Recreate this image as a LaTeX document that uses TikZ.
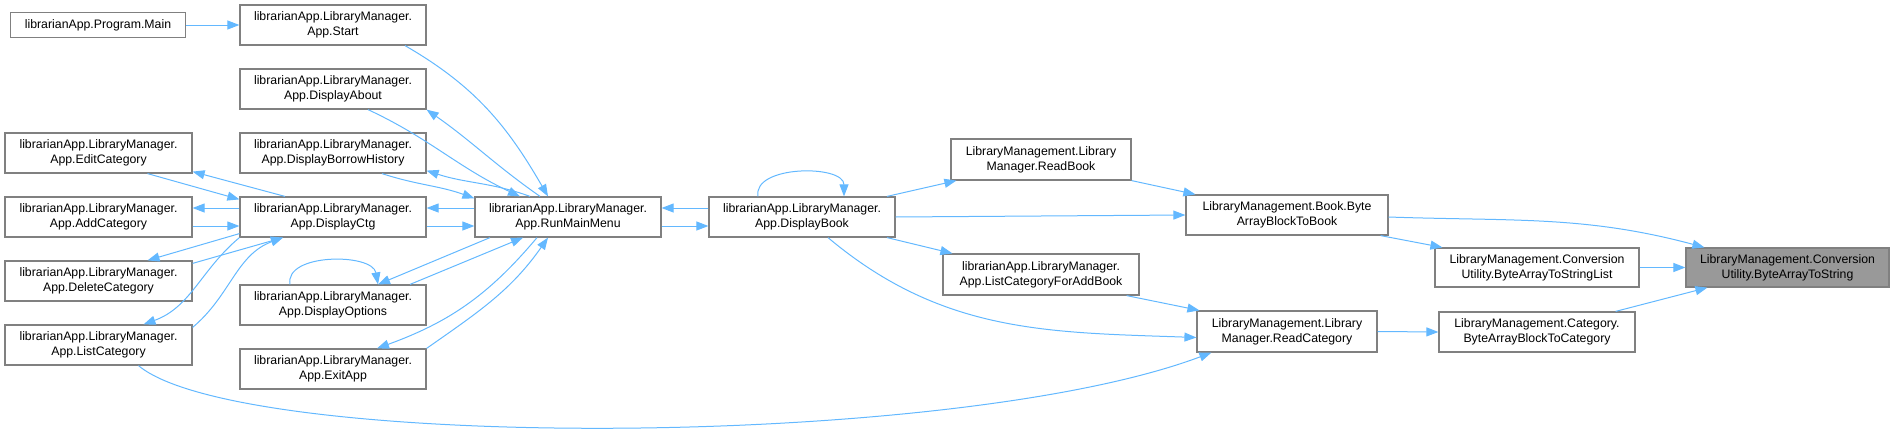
\documentclass[tikz,border=0pt]{standalone}
\usepackage{fontspec}
\setmainfont{Liberation Sans}
\usetikzlibrary{arrows.meta}
\definecolor{edgeblue}{HTML}{63B8FF}
\definecolor{boxgray}{HTML}{808080}
\definecolor{rootgray}{HTML}{999999}
\begin{document}
\begin{tikzpicture}[x=1pt, y=1pt,
	every node/.style={inner sep=1pt, font=\fontsize{12.3}{15}\selectfont},
	fn/.style={rectangle, draw=boxgray, line width=1.2pt, fill=white, align=center, minimum width=186pt, minimum height=40pt},
	call/.style={draw=edgeblue, line width=1pt, -{Triangle[length=12pt,width=9pt]}}]
	\useasboundingbox (0,0) rectangle (1895,-434);
	
	\node[fn, minimum width=175pt, minimum height=25pt] (main) at (98,-25) {librarianApp.Program.Main};
	\node[fn] (start) at (333,-25) {librarianApp.LibraryManager.\\App.Start};
	\node[fn] (about) at (333,-89) {librarianApp.LibraryManager.\\App.DisplayAbout};
	\node[fn] (borrow) at (333,-153) {librarianApp.LibraryManager.\\App.DisplayBorrowHistory};
	\node[fn, minimum width=187pt] (edit) at (98.5,-153) {librarianApp.LibraryManager.\\App.EditCategory};
	\node[fn, minimum width=187pt] (add) at (98.5,-217) {librarianApp.LibraryManager.\\App.AddCategory};
	\node[fn] (ctg) at (333,-217) {librarianApp.LibraryManager.\\App.DisplayCtg};
	\node[fn, minimum width=187pt] (del) at (98.5,-281) {librarianApp.LibraryManager.\\App.DeleteCategory};
	\node[fn, minimum width=187pt] (list) at (98.5,-345) {librarianApp.LibraryManager.\\App.ListCategory};
	\node[fn] (options) at (333,-305) {librarianApp.LibraryManager.\\App.DisplayOptions};
	\node[fn] (exitapp) at (333,-369) {librarianApp.LibraryManager.\\App.ExitApp};
	\node[fn] (menu) at (568,-217) {librarianApp.LibraryManager.\\App.RunMainMenu};
	\node[fn] (book) at (802,-217) {librarianApp.LibraryManager.\\App.DisplayBook};
	\node[fn, minimum width=180pt, minimum height=41pt] (readbook) at (1041,-159.5) {LibraryManagement.Library\\Manager.ReadBook};
	\node[fn, minimum width=202pt] (bookblock) at (1287,-215) {LibraryManagement.Book.Byte\\ArrayBlockToBook};
	\node[fn, minimum width=196pt, minimum height=41pt] (listadd) at (1041,-274.5) {librarianApp.LibraryManager.\\App.ListCategoryForAddBook};
	\node[fn, minimum width=180pt, minimum height=41pt] (readcat) at (1287,-331.5) {LibraryManagement.Library\\Manager.ReadCategory};
	\node[fn, minimum width=204pt, minimum height=39pt] (strlist) at (1537,-267.5) {LibraryManagement.Conversion\\Utility.ByteArrayToStringList};
	\node[fn, minimum width=196pt] (catblock) at (1537,-332) {LibraryManagement.Category.\\ByteArrayBlockToCategory};
	\node[fn, minimum width=203pt, minimum height=39pt, fill=rootgray] (tostring) at (1787.5,-267.5) {LibraryManagement.Conversion\\Utility.ByteArrayToString};
	
	\foreach \from/\to in {main.east/start.west, book.east/bookblock.west, readcat.east/catblock.west, strlist.east/tostring.west}
	\draw[call] (\from) -- (\to);
	
	% start menu
	\draw[call] ([xshift=72pt]start.south) to[out=-30, in=120] ([xshift=-20pt]menu.north);
	\draw[call] ([xshift=35pt]about.south) to[out=-25, in=155] ([xshift=-48pt]menu.north);
	\draw[call] ([xshift=-28pt]menu.north) to[out=145, in=-35] (about.south east);
	\draw[call] ([xshift=49pt]borrow.south) to[out=-18, in=160] ([yshift=-2pt]menu.north west);
	\draw[call] ([xshift=-38pt]menu.north) to[out=160, in=-18] ([yshift=3pt]borrow.south east);
	\draw[call] ([yshift=9pt]menu.west) -- ([yshift=9pt]ctg.east);
	\draw[call] ([yshift=-9pt]ctg.east) -- ([yshift=-9pt]menu.west);
	\draw[call] ([xshift=-78pt]menu.south) -- ([xshift=45pt]options.north);
	\draw[call] ([xshift=77pt]options.north) -- ([xshift=-45pt]menu.south);
	\draw[call] ([xshift=-31pt]menu.south) to[out=-130, in=20] ([xshift=44pt]exitapp.north);
	\draw[call] (exitapp.north east) to[out=35, in=-125] ([xshift=-20pt]menu.south);
	\draw[call] ([yshift=9pt]book.west) -- ([yshift=9pt]menu.east);
	\draw[call] ([yshift=-9pt]menu.east) -- ([yshift=-9pt]book.west);
	\draw[call] ([xshift=-44pt]book.north) to[out=100, in=90, out distance=32pt, in distance=32pt] ([xshift=42pt]book.north);
	\draw[call] ([xshift=-43pt]options.north) to[out=100, in=100, out distance=32pt, in distance=32pt] ([xshift=45pt]options.north);
	
	% category menu
	\draw[call] ([xshift=49pt]edit.south) -- ([yshift=-3pt]ctg.north west);
	\draw[call] ([xshift=-48pt]ctg.north) -- ([yshift=2pt]edit.south east);
	\draw[call] ([yshift=9pt]ctg.west) -- ([yshift=9pt]add.east);
	\draw[call] ([yshift=-9pt]add.east) -- ([yshift=-9pt]ctg.west);
	\draw[call] ([yshift=4pt]ctg.south west) -- ([xshift=49pt]del.north);
	\draw[call] ([yshift=-3pt]del.north east) -- ([xshift=-50pt]ctg.south);
	\draw[call] (ctg.south west) to[out=-140, in=20] ([xshift=45pt]list.north);
	\draw[call] ([yshift=-3pt]list.north east) to[out=40, in=-160] ([xshift=-50pt]ctg.south);
	
	% book and category reading
	\draw[call] ([xshift=85pt]book.north) -- ([xshift=6pt]readbook.south west);
	\draw[call] ([xshift=85pt]book.south) -- ([xshift=10pt]listadd.north west);
	\draw[call] ([xshift=26pt]book.south) to[out=-40, in=178] ([yshift=-6pt]readcat.west);
	\draw[call] (readbook.south east) -- ([xshift=10pt]bookblock.north west);
	\draw[call] ([xshift=-13pt]listadd.south east) -- ([xshift=3pt]readcat.north west);
	\draw[call] ([xshift=40pt]list.south) .. controls +(101,-85) and +(-261,-98) .. ([xshift=15pt]readcat.south west);
	
	% conversion
	\draw[call] ([yshift=-2pt]bookblock.east) to[out=-2, in=165] ([xshift=19pt]tostring.north west);
	\draw[call] ([xshift=-8pt]bookblock.south east) -- ([xshift=8pt]strlist.north west);
	\draw[call] ([xshift=-20pt]catblock.north east) -- ([xshift=22pt]tostring.south west);
\end{tikzpicture}
\end{document}
